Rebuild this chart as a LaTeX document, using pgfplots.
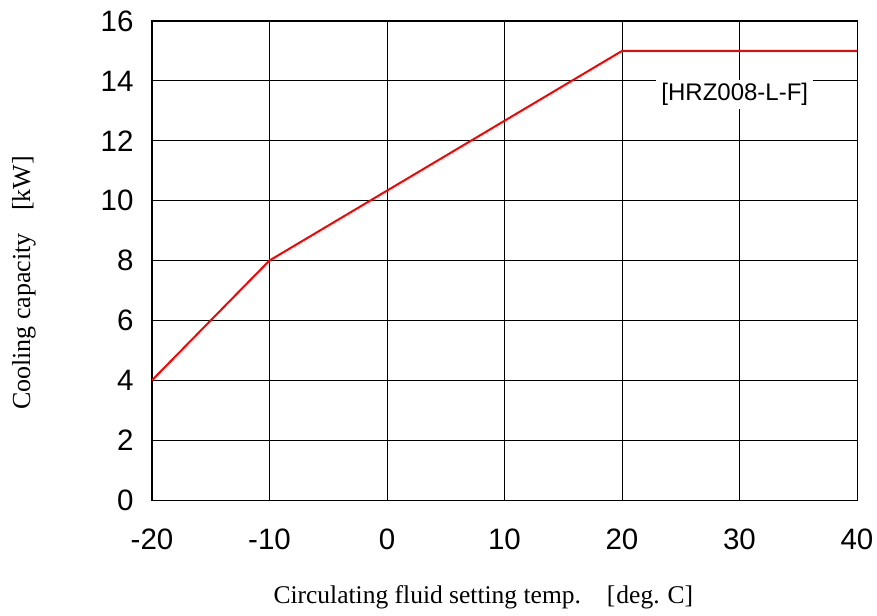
\documentclass[border=0pt]{standalone}
\usepackage{pgfplots}
\pgfplotsset{compat=1.18}
\usepackage{fontspec}
\setmainfont{Liberation Serif}
\newfontfamily\arial{Liberation Sans}
\begin{document}
\begin{tikzpicture}
\useasboundingbox (-152pt,-115pt) rectangle (725pt,500pt);
\begin{axis}[
  scale only axis,
  width=705pt, height=479pt,
  xmin=-20, xmax=40, ymin=0, ymax=16,
  xtick={-20,-10,0,10,20,30,40},
  xticklabels={-20,-10,0,10,20,30,40},
  ytick={0,2,4,6,8,10,12,14,16},
  yticklabels={0,2,4,6,8,10,12,14,16},
  /pgf/number format/assume math mode=true,
  major tick length=0pt,
  grid=major,
  grid style={black, line width=0.8pt},
  axis line style={black, line width=1pt},
  ticklabel style={font=\arial\fontsize{29.5}{34}\selectfont},
  yticklabel style={xshift=-15pt},
  xticklabel style={yshift=-25pt},
  xlabel={Circulating fluid setting temp.\hspace{26pt}[\hspace{1pt}deg.\hspace{8pt}C]},
  ylabel={Cooling capacity\hspace{0.85em}[kW]},
  xlabel style={font=\fontsize{25.5}{29}\selectfont, at={(axis description cs:0.47,-0.2025)}, anchor=center},
  ylabel style={font=\fontsize{26}{30}\selectfont, at={(axis description cs:-0.1816,0.453)}, anchor=center},
]
\addplot[red, line width=2pt, mark=none] coordinates {(-20,4) (-10,8) (20,15) (40,15)};
\node[fill=white, inner xsep=5pt, inner ysep=3pt, font=\arial\fontsize{24}{28}\selectfont] at (axis cs:29.6,13.55) {[HRZ008-L-F]};
\end{axis}
\end{tikzpicture}
\end{document}
